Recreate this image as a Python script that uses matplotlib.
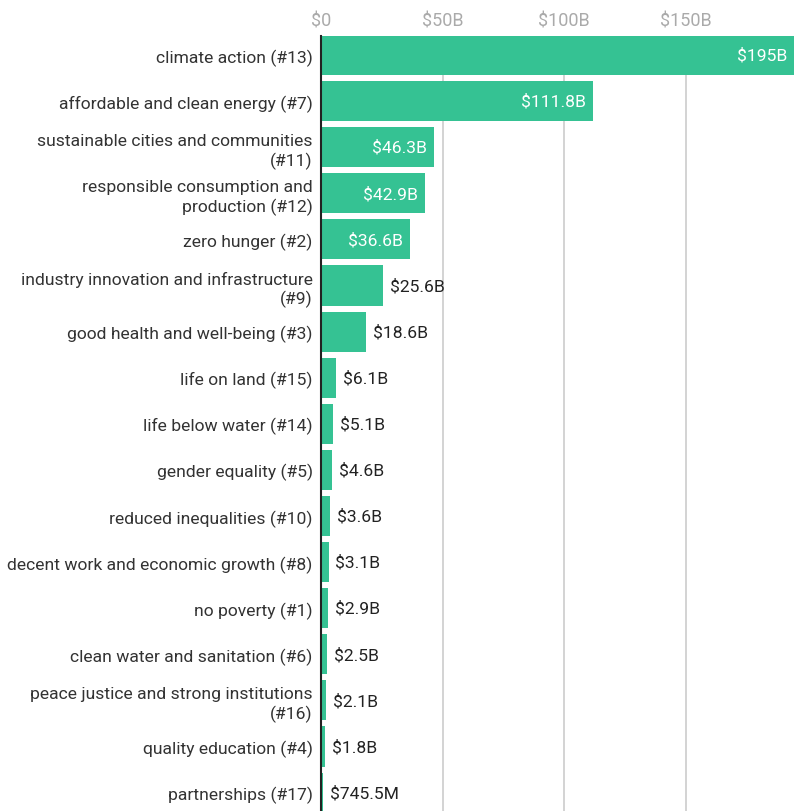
import numpy as np
import matplotlib.pyplot as plt

plt.rcParams['font.family'] = ['Roboto', 'DejaVu Sans']

categorias = ['climate action (#13)', 'affordable and clean energy (#7)',
              'sustainable cities and communities\n(#11)',
              'responsible consumption and\nproduction (#12)',
              'zero hunger (#2)',
              'industry innovation and infrastructure\n(#9)',
              'good health and well-being (#3)', 'life on land (#15)',
              'life below water (#14)', 'gender equality (#5)',
              'reduced inequalities (#10)',
              'decent work and economic growth (#8)', 'no poverty (#1)',
              'clean water and sanitation (#6)',
              'peace justice and strong institutions\n(#16)',
              'quality education (#4)', 'partnerships (#17)']
valores = [195, 111.8, 46.3, 42.9, 36.6, 25.6, 18.6, 6.1, 5.1, 4.6, 3.6,
           3.1, 2.9, 2.5, 2.1, 1.8, 0.7455]
rotulos = ['$195B', '$111.8B', '$46.3B', '$42.9B', '$36.6B', '$25.6B',
           '$18.6B', '$6.1B', '$5.1B', '$4.6B', '$3.6B', '$3.1B', '$2.9B',
           '$2.5B', '$2.1B', '$1.8B', '$745.5M']
ticks = [0, 50, 100, 150]
ticks_txt = ['$0', '$50B', '$100B', '$150B']

fig = plt.figure(figsize=(7.94, 8.12), dpi=100)
ax = fig.add_axes([321/794, 0, 1 - 321/794, 1 - 37/812])

y = np.arange(len(valores))
ax.barh(y, valores, height=0.87, color='#35c293', zorder=2)

ax.set_xlim(0, 194.5)
ax.set_ylim(16.4, -0.412)

ax.set_yticks(y)
ax.set_yticklabels(categorias, fontsize=12.6, color='#333333',
                   linespacing=1.25)
ax.tick_params(axis='y', length=0, pad=6)
for t in ax.get_yticklabels():
    t.set_horizontalalignment('right')
    t.set_multialignment('right')

ax.xaxis.tick_top()
ax.set_xticks(ticks)
ax.set_xticklabels(ticks_txt, fontsize=13, color='#aaaaaa')
ax.tick_params(axis='x', length=0, pad=5)
ax.grid(axis='x', color='#cccccc', linewidth=1.2, zorder=0)

for s in ['top', 'right', 'bottom']:
    ax.spines[s].set_visible(False)
ax.spines['left'].set_color('#222222')
ax.spines['left'].set_linewidth(1.5)
ax.spines['left'].set_zorder(3)

# rótulos de valor: dentro da barra se grande, fora se pequena
for i, (v, r) in enumerate(zip(valores, rotulos)):
    if v > 30:
        ax.annotate(r, (min(v, 194.5), i), xytext=(-5, 0),
                    textcoords='offset points', annotation_clip=False,
                    ha='right', va='center', fontsize=12.6, color='white',
                    zorder=4)
    else:
        ax.annotate(r, (v, i), xytext=(5, 0), textcoords='offset points',
                    annotation_clip=False,
                    ha='left', va='center', fontsize=12.6, color='#222222',
                    zorder=4)

fig.savefig('out.png', dpi=100)
